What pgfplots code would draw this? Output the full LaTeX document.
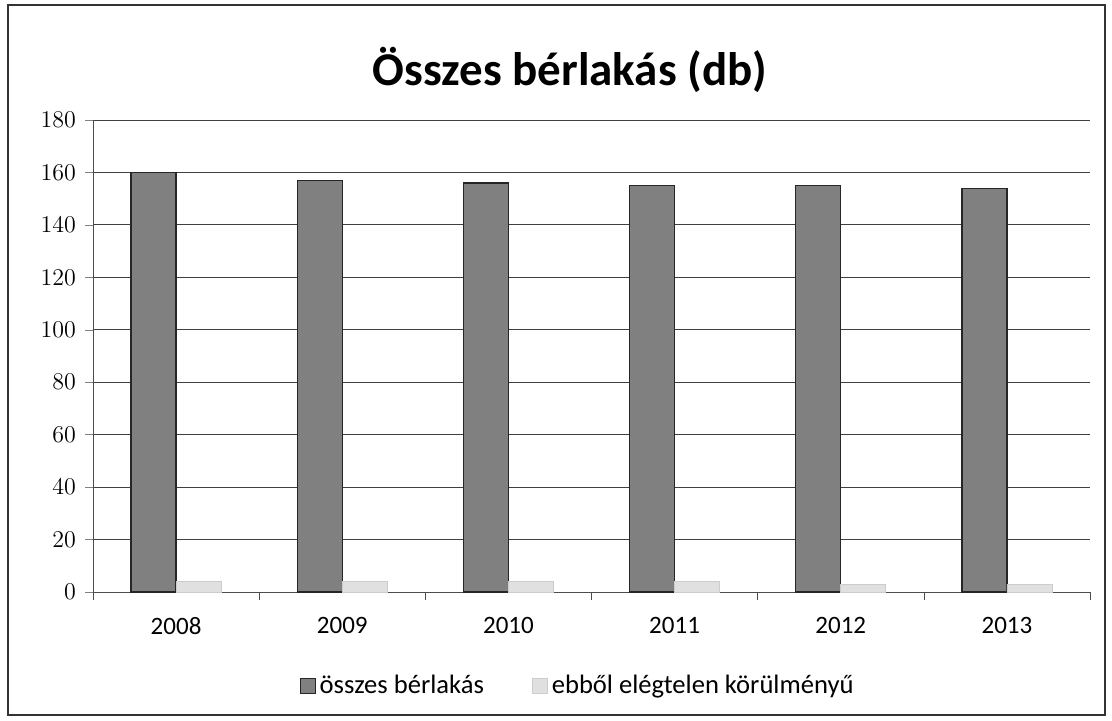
\documentclass[border=0pt]{standalone}
\usepackage{pgfplots}
\pgfplotsset{compat=1.18}
\usepackage{fontspec}
\setmainfont{Carlito}
\begin{document}
\begin{tikzpicture}[x=1pt,y=1pt]
\useasboundingbox (0,0) rectangle (556,360);
\draw[black!80, line width=0.8pt] (4,2.5) rectangle (552.5,357.5);
\node[font=\fontsize{23.5}{28}\selectfont\bfseries] at (285,325) {Összes bérlakás (db)};
\begin{axis}[
  at={(46.5pt,64pt)}, anchor=south west,
  scale only axis, width=498.5pt, height=236pt,
  ybar=0pt, bar width=22.5pt,
  xmin=-0.5, xmax=5.5, ymin=0, ymax=180,
  ytick={0,20,...,180},
  xtick={0,...,5},
  xticklabels={2008,2009,2010,2011,2012,2013},
  minor xtick={-0.5,0.5,...,5.5},
  axis x line=bottom, axis y line=left,
  axis line style={black!70, -},
  x axis line style={-},
  y axis line style={-},
  major x tick style={draw=none},
  minor x tick style={black!70},
  minor tick length=4pt,
  major tick length=4pt,
  tick align=outside,
  ymajorgrids, grid style={black!75, line width=0.5pt},
  x tick label style={font=\fontsize{12.5}{15}\selectfont, yshift=-5pt},
  y tick label style={font=\fontsize{12.5}{15}\selectfont, xshift=-1pt},
  legend style={at={(0.487,-0.199)}, anchor=center, draw=none, font=\fontsize{13.3}{16}\selectfont,
    legend columns=2, /tikz/every even column/.append style={column sep=22pt}},
  legend image code/.code={\draw[#1] (0pt,-3.7pt) rectangle (7.5pt,3.7pt);},
  legend cell align=left,
]
\addplot[fill=black!50, draw=black!85, line width=0.6pt] coordinates {(0,160) (1,157) (2,156) (3,155) (4,155) (5,154)};
\addplot[fill=black!12, draw=black!20, line width=0.4pt] coordinates {(0,4) (1,4) (2,4) (3,4) (4,3) (5,3)};
\legend{összes bérlakás, ebből elégtelen körülményű}
\end{axis}
\end{tikzpicture}
\end{document}
